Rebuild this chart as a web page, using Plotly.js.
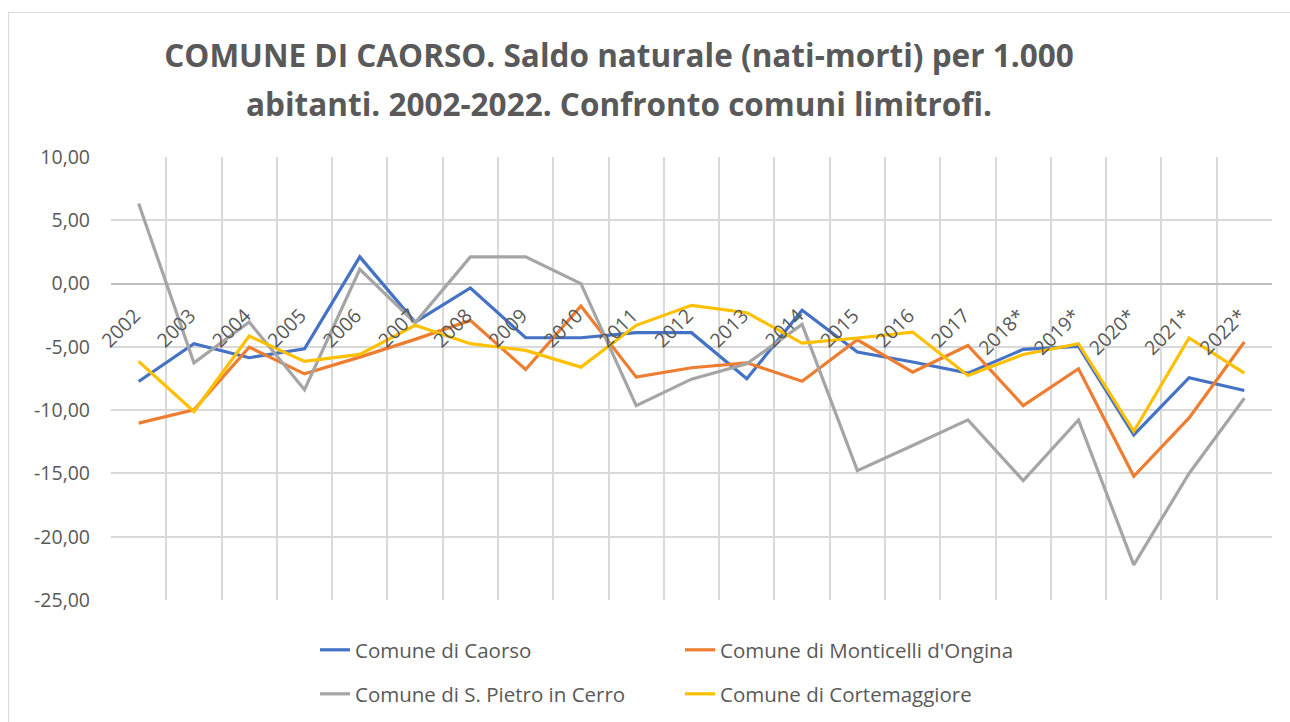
<!DOCTYPE html>
<html>
<head>
<meta charset="utf-8">
<script src="https://cdn.plot.ly/plotly-3.0.1.min.js"></script>
<style>
  html, body { margin: 0; padding: 0; background: #ffffff; }
  #wrap { position: relative; width: 1290px; height: 722px; overflow: hidden; }
  #chart { width: 1290px; height: 722px; }
  #frame { position: absolute; left: 8px; top: 12px; width: 1400px; height: 800px;
           border-left: 1.5px solid #d9d9d9; border-top: 1.5px solid #d9d9d9; pointer-events: none; }
</style>
</head>
<body>
<div id="wrap">
  <div id="chart"></div>
  <div id="frame"></div>
</div>
<script>
// ---- Data ----
const years = ["2002","2003","2004","2005","2006","2007","2008","2009","2010","2011","2012",
               "2013","2014","2015","2016","2017","2018*","2019*","2020*","2021*","2022*"];
const caorso = [-7.74, -4.75, -5.86, -5.15, 2.11, -3.04, -0.35, -4.28, -4.28, -3.88, -3.88,
                -7.52, -2.11, -5.41, -6.20, -7.08, -5.20, -4.96, -11.96, -7.44, -8.45];
const monticelli = [-11.03, -9.98, -5.02, -7.13, -5.81, -4.41, -2.91, -6.79, -1.77, -7.39, -6.65,
                    -6.26, -7.71, -4.44, -7.00, -4.89, -9.64, -6.73, -15.23, -10.61, -4.62];
const sanPietro = [6.33, -6.26, -3.04, -8.39, 1.13, -3.10, 2.11, 2.11, 0.00, -9.64, -7.55,
                   -6.34, -3.22, -14.78, -12.80, -10.77, -15.57, -10.77, -22.22, -15.00, -9.06];
const cortemaggiore = [-6.15, -10.11, -4.15, -6.15, -5.60, -3.30, -4.75, -5.28, -6.60, -3.30, -1.72,
                       -2.30, -4.70, -4.30, -3.83, -7.26, -5.60, -4.75, -11.67, -4.30, -7.08];
const seriesNames = ["Comune di Caorso", "Comune di Monticelli d'Ongina",
                     "Comune di S. Pietro in Cerro", "Comune di Cortemaggiore"];
const yTicks = [10, 5, 0, -5, -10, -15, -20, -25];
const yTickText = ["10,00", "5,00", "0,00", "-5,00", "-10,00", "-15,00", "-20,00", "-25,00"];
const titleLine1 = "COMUNE DI CAORSO. Saldo naturale (nati-morti) per 1.000";
const titleLine2 = "abitanti. 2002-2022. Confronto comuni limitrofi.";

// ---- Styling ----
const W = 1290, H = 722;
const FONT = "Open Sans, Liberation Sans, sans-serif";
const TXT = "#595959";
const colors = ["#4472C4", "#ED7D31", "#A5A5A5", "#FFC000"];
const values = [caorso, monticelli, sanPietro, cortemaggiore];
const legendIds = ["legend", "legend2", "legend3", "legend4"];

const traces = values.map((v, i) => ({
  type: "scatter", mode: "lines",
  x: years, y: v, name: seriesNames[i],
  line: { color: colors[i], width: 3.2 },
  legend: legendIds[i],
  hoverinfo: "x+y+name"
}));

const margin = { l: 111, r: 18, t: 157, b: 122, autoexpand: false };
const plotW = W - margin.l - margin.r;
const plotH = H - margin.t - margin.b;

function legendAt(px, py) {
  return {
    xref: "container", yref: "container",
    x: px / W, y: 1 - py / H, xanchor: "left", yanchor: "middle",
    bgcolor: "rgba(0,0,0,0)", borderwidth: 0,
    font: { family: FONT, size: 20.5, color: TXT }
  };
}

const layout = {
  width: W, height: H,
  margin: margin,
  paper_bgcolor: "#ffffff", plot_bgcolor: "#ffffff",
  separators: ",.",
  showlegend: true,
  title: {
    text: titleLine1,
    font: { family: FONT, size: 31.5, color: TXT, weight: 700 },
    xref: "container", yref: "container",
    x: 619 / W, xanchor: "center",
    y: 1 - 56 / H, yanchor: "middle"
  },
  annotations: [{
    text: titleLine2, showarrow: false,
    xref: "paper", yref: "paper",
    x: (619 - margin.l) / plotW, xanchor: "center",
    y: (H - margin.b - 103) / plotH, yanchor: "middle",
    font: { family: FONT, size: 31.5, color: TXT, weight: 700 }
  }],
  xaxis: {
    type: "category",
    range: [-0.5, years.length - 0.5],
    tickson: "boundaries",
    showgrid: true, gridcolor: "#d9d9d9", gridwidth: 1.5,
    ticks: "", showline: false, zeroline: false,
    anchor: "free", position: 25 / 35,
    tickangle: -45,
    ticklabelstandoff: 16,
    ticklabelshift: -4,
    automargin: false,
    tickfont: { family: FONT, size: 19.5, color: TXT },
    fixedrange: true
  },
  yaxis: {
    range: [-25, 10],
    tickvals: yTicks,
    ticktext: yTickText,
    showgrid: true, gridcolor: "#d9d9d9", gridwidth: 1.5,
    zeroline: true, zerolinecolor: "#bfbfbf", zerolinewidth: 1.5,
    showline: false, ticks: "",
    automargin: false,
    ticklabelstandoff: 20,
    tickfont: { family: FONT, size: 19.5, color: TXT },
    fixedrange: true
  },
  legend: legendAt(315, 650),
  legend2: legendAt(680, 650),
  legend3: legendAt(315, 694),
  legend4: legendAt(680, 694)
};

Plotly.newPlot("chart", traces, layout, { displayModeBar: false });
</script>
</body>
</html>
